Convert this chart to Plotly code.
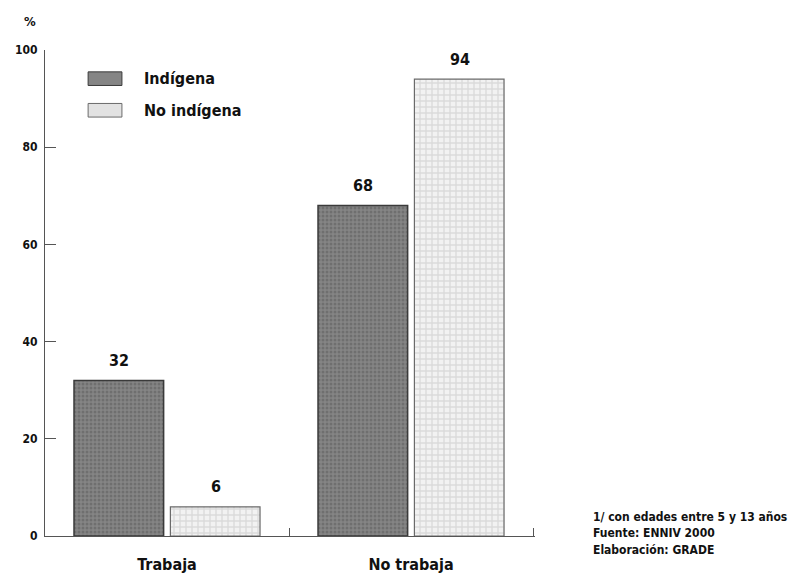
import plotly.graph_objects as go

categories = ["Trabaja", "No trabaja"]
indigena = [32, 68]
no_indigena = [6, 94]
series_names = ["Indígena", "No indígena"]
y_ticks = [0, 20, 40, 60, 80, 100]
notes = ["1/ con edades entre 5 y 13 años", "Fuente: ENNIV 2000", "Elaboración: GRADE"]

FONT = "Liberation Sans Narrow, DejaVu Sans Condensed, Arial Narrow, sans-serif"
DARK_BG, DARK_FG = "#858585", "#5a5a5a"
LIGHT_BG, LIGHT_FG = "#f2f2f2", "#c4c4c4"

fig = go.Figure()
fig.add_trace(go.Bar(
    x=categories, y=indigena, name=series_names[0],
    marker=dict(color=DARK_BG, line=dict(color="#3a3a3a", width=1.5),
                pattern=dict(shape=".", fgcolor=DARK_FG, bgcolor=DARK_BG, size=4, solidity=0.45)),
    showlegend=False,
))
fig.add_trace(go.Bar(
    x=categories, y=no_indigena, name=series_names[1],
    marker=dict(color=LIGHT_BG, line=dict(color="#6a6a6a", width=1.2),
                pattern=dict(shape="+", fgcolor=LIGHT_FG, bgcolor=LIGHT_BG, size=6, solidity=0.4)),
    showlegend=False,
))

# value labels above bars
for vals, xs in ((indigena, -48.5), (no_indigena, 48.5)):
    for c, v in zip(categories, vals):
        fig.add_annotation(x=c, y=v, text=str(v), showarrow=False,
                           xshift=xs, yshift=20, yanchor="middle",
                           font=dict(family=FONT, size=16, color="#111", weight="bold"))

# manual legend (swatches in paper coordinates)
legend_fill = [DARK_BG, "#e2e2e2"]
legend_line = ["#3a3a3a", "#6a6a6a"]
for i, name in enumerate(series_names):
    y0 = 0.955 - i * 0.065
    fig.add_shape(type="rect", xref="paper", yref="paper",
                  x0=0.088, x1=0.157, y0=y0 - 0.028, y1=y0,
                  fillcolor=legend_fill[i], line=dict(color=legend_line[i], width=1))
    fig.add_annotation(xref="paper", yref="paper", x=0.198, y=y0 - 0.014,
                       text=name, showarrow=False, xanchor="left", yanchor="middle",
                       font=dict(family=FONT, size=16, color="#111", weight="bold"))

# % label
fig.add_annotation(xref="paper", yref="paper", x=-0.03, y=1.04, text="%",
                   showarrow=False, xanchor="center", yanchor="bottom",
                   font=dict(family=FONT, size=13, color="#111", weight="bold"))

# notes
for i, t in enumerate(notes):
    fig.add_annotation(xref="paper", yref="paper", x=1.115, y=0.04 - i * 0.034,
                       text=t, showarrow=False, xanchor="left", yanchor="middle",
                       font=dict(family=FONT, size=12, color="#111", weight="bold"))

fig.update_layout(
    width=795, height=577,
    margin=dict(l=45, r=260, t=50, b=41, autoexpand=False),
    paper_bgcolor="white", plot_bgcolor="white",
    barmode="group", bargap=0.21, bargroupgap=0.07,
    font=dict(family=FONT, size=13, color="#111"),
    xaxis=dict(
        range=[-0.5, 1.508], showline=True, linecolor="#555", linewidth=1.2,
        ticks="inside", tickson="boundaries", ticklen=8, tickcolor="#555",
        tickfont=dict(family=FONT, size=16, color="#111", weight="bold"),
        ticklabelstandoff=14, showgrid=False, zeroline=False, automargin=False,
    ),
    yaxis=dict(
        range=[0, 100], tickvals=y_ticks, showline=True, linecolor="#555", linewidth=1.2,
        ticks="inside", ticklen=11, tickcolor="#555",
        tickfont=dict(family=FONT, size=12, color="#111", weight="bold"),
        ticklabelstandoff=4, showgrid=False, zeroline=False, automargin=False,
    ),
)

fig.write_html("out.html")
